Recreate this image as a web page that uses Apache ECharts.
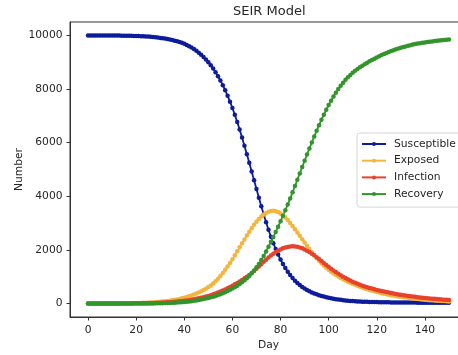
<!DOCTYPE html>
<html>
<head>
<meta charset="utf-8">
<script src="https://cdn.jsdelivr.net/npm/echarts@6.0.0/dist/echarts.min.js"></script>
<style>
  html, body { margin: 0; padding: 0; background: #fff; }
  #chart { width: 458px; height: 355px; }
</style>
</head>
<body>
<div id="chart"></div>
<script>
// values, one per day (day 0 .. 150)
const susceptible = [
  9999, 9999, 9999, 9998, 9998, 9998, 9997, 9997, 9996, 9996,
  9995, 9994, 9993, 9992, 9991, 9990, 9988, 9986, 9984, 9981,
  9978, 9975, 9971, 9967, 9962, 9956, 9949, 9941, 9932, 9921,
  9908, 9895, 9881, 9865, 9847, 9827, 9805, 9781, 9754, 9724,
  9685, 9643, 9597, 9546, 9489, 9426, 9356, 9279, 9194, 9101,
  8999, 8887, 8764, 8629, 8481, 8320, 8145, 7955, 7750, 7529,
  7292, 7039, 6771, 6489, 6194, 5888, 5573, 5251, 4925, 4598,
  4273, 3950, 3633, 3326, 3032, 2754, 2494, 2253, 2031, 1828,
  1643, 1475, 1323, 1186, 1063, 953, 855, 768, 691, 622,
  561, 507, 459, 416, 378, 344, 313, 285, 260, 237,
  216, 197, 180, 165, 151, 139, 128, 118, 109, 101,
  94, 88, 82, 77, 73, 69, 65, 62, 59, 57,
  55, 53, 51, 49, 48, 46, 45, 44, 43, 42,
  41, 40, 39, 39, 38, 37, 37, 36, 36, 35,
  35, 35, 34, 34, 34, 33, 33, 33, 33, 32, 32
];
const exposed = [
  0, 1, 1, 1, 2, 2, 2, 3, 3, 4,
  4, 5, 6, 7, 8, 9, 10, 12, 14, 16,
  18, 21, 24, 27, 31, 35, 40, 45, 51, 58,
  66, 75, 85, 96, 109, 123, 138, 155, 174, 195,
  218, 244, 272, 303, 337, 374, 414, 458, 506, 558,
  615, 678, 750, 832, 925, 1030, 1140, 1258, 1380, 1510,
  1652, 1798, 1948, 2097, 2246, 2394, 2539, 2679, 2813, 2937,
  3052, 3156, 3246, 3322, 3382, 3425, 3451, 3460, 3447, 3413,
  3360, 3291, 3208, 3113, 3008, 2895, 2776, 2653, 2528, 2402,
  2277, 2154, 2034, 1918, 1807, 1701, 1601, 1507, 1419, 1337,
  1261, 1191, 1126, 1066, 1010, 958, 909, 863, 819, 777,
  737, 699, 663, 629, 597, 566, 537, 509, 483, 458,
  434, 411, 390, 370, 351, 333, 315, 299, 283, 268,
  254, 240, 227, 215, 203, 192, 182, 172, 162, 153,
  145, 137, 129, 122, 115, 109, 103, 97, 92, 87, 82
];
const infection = [
  1, 1, 1, 1, 1, 2, 2, 2, 2, 3,
  3, 3, 4, 4, 5, 5, 6, 7, 8, 9,
  10, 11, 13, 14, 16, 18, 20, 23, 26, 29,
  33, 37, 42, 47, 53, 59, 66, 74, 83, 93,
  104, 116, 129, 143, 159, 176, 195, 215, 237, 261,
  287, 315, 345, 377, 411, 447, 486, 527, 571, 617,
  666, 717, 770, 826, 884, 944, 1005, 1070, 1140, 1218,
  1300, 1385, 1471, 1556, 1639, 1718, 1792, 1860, 1921, 1975,
  2021, 2059, 2090, 2113, 2129, 2138, 2132, 2117, 2093, 2061,
  2021, 1974, 1921, 1862, 1798, 1730, 1659, 1586, 1513, 1441,
  1371, 1303, 1237, 1174, 1114, 1057, 1003, 952, 904, 859,
  817, 777, 739, 703, 669, 640, 612, 585, 559, 535,
  511, 489, 468, 447, 428, 409, 391, 374, 358, 342,
  327, 313, 299, 286, 274, 262, 251, 240, 229, 219,
  210, 201, 192, 184, 176, 168, 161, 154, 147, 141, 135
];
const recovery = [
  0, 0, 0, 0, 0, 0, 0, 0, 0, 0,
  0, 0, 0, 1, 1, 1, 1, 1, 2, 2,
  2, 3, 3, 4, 5, 6, 7, 8, 10, 12,
  14, 16, 19, 22, 26, 30, 35, 40, 46, 53,
  61, 70, 80, 91, 103, 117, 132, 149, 167, 187,
  209, 233, 259, 287, 317, 350, 386, 425, 467, 512,
  560, 612, 668, 729, 795, 867, 946, 1033, 1129, 1235,
  1352, 1480, 1622, 1778, 1946, 2122, 2302, 2486, 2674, 2867,
  3066, 3271, 3482, 3699, 3922, 4150, 4382, 4617, 4854, 5091,
  5326, 5558, 5786, 6010, 6229, 6443, 6651, 6852, 7045, 7229,
  7403, 7567, 7721, 7865, 7999, 8123, 8237, 8342, 8438, 8526,
  8607, 8681, 8749, 8812, 8871, 8928, 8983, 9035, 9085, 9133,
  9179, 9223, 9265, 9305, 9343, 9380, 9415, 9448, 9480, 9510,
  9538, 9565, 9590, 9614, 9636, 9657, 9677, 9694, 9710, 9725,
  9739, 9752, 9765, 9777, 9789, 9800, 9811, 9821, 9831, 9840, 9849
];
const dayTicks = [0, 20, 40, 60, 80, 100, 120, 140];
const numberTicks = [0, 2000, 4000, 6000, 8000, 10000];

const seriesNames = ['Susceptible', 'Exposed', 'Infection', 'Recovery'];
const seriesColors = ['#0c1c9c', '#f5b53a', '#e8412c', '#31952b'];
const seriesValues = [susceptible, exposed, infection, recovery];

const FONT = 'DejaVu Sans';
const TEXT = '#262626';

const chart = echarts.init(document.getElementById('chart'), null, { renderer: 'canvas' });

const option = {
  animation: false,
  backgroundColor: '#fff',
  title: {
    text: 'SEIR Model',
    left: 228,
    top: 0,
    textStyle: { fontFamily: FONT, fontSize: 13, fontWeight: 'normal', color: TEXT }
  },
  grid: {
    left: 70,
    top: 22,
    width: 397,
    height: 295,
    outerBoundsMode: 'none',
    containLabel: false,
    show: true,
    borderColor: '#333',
    borderWidth: 1,
    backgroundColor: 'transparent'
  },
  legend: {
    orient: 'vertical',
    left: 357,
    top: 133,
    padding: [5, 6, 7, 4],
    itemWidth: 24,
    itemHeight: 5,
    itemGap: 4.7,
    backgroundColor: 'rgba(255,255,255,0.8)',
    borderColor: '#d6d6d6',
    borderWidth: 1,
    borderRadius: 3,
    textStyle: { fontFamily: FONT, fontSize: 10.7, color: TEXT, lineHeight: 12, padding: [0, 0, 0, 3] },
    data: seriesNames
  },
  xAxis: {
    type: 'value',
    min: -7.5,
    max: 157.5,
    name: 'Day',
    nameLocation: 'middle',
    nameGap: 23,
    nameMoveOverlap: false,
    nameTextStyle: { fontFamily: FONT, fontSize: 10.7, color: TEXT },
    axisLine: { show: true, onZero: false, lineStyle: { color: '#333', width: 1 } },
    axisTick: { show: true, length: 3.5, lineStyle: { color: '#333' }, customValues: dayTicks },
    axisLabel: { margin: 8, fontFamily: FONT, fontSize: 10.7, color: TEXT, customValues: dayTicks },
    splitLine: { show: false }
  },
  yAxis: {
    type: 'value',
    min: -500,
    max: 10500,
    name: 'Number',
    nameLocation: 'middle',
    nameGap: 45,
    nameRotate: 90,
    nameMoveOverlap: false,
    nameTextStyle: { fontFamily: FONT, fontSize: 10.7, color: TEXT },
    axisLine: { show: true, onZero: false, lineStyle: { color: '#333', width: 1 } },
    axisTick: { show: true, length: 3.5, lineStyle: { color: '#333' }, customValues: numberTicks },
    axisLabel: {
      margin: 7.5, fontFamily: FONT, fontSize: 10.7, color: TEXT, customValues: numberTicks,
      formatter: (v) => String(v)
    },
    splitLine: { show: false }
  },
  series: seriesNames.map((name, k) => ({
    name: name,
    type: 'line',
    data: seriesValues[k].map((v, day) => [day, v]),
    symbol: 'circle',
    symbolSize: 4.5,
    showSymbol: true,
    showAllSymbol: true,
    color: seriesColors[k],
    lineStyle: { width: 1.8, color: seriesColors[k] },
    itemStyle: { color: seriesColors[k] },
    emphasis: { disabled: true }
  }))
};

chart.setOption(option);
</script>
</body>
</html>
